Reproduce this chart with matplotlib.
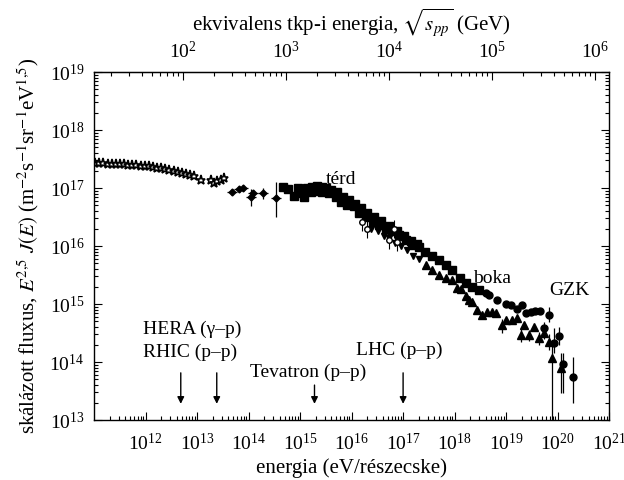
import matplotlib.pyplot as plt
import numpy as np
from matplotlib.ticker import LogLocator, NullFormatter

plt.rcParams['font.family'] = ['Liberation Serif', 'DejaVu Serif']
plt.rcParams['mathtext.fontset'] = 'stix'
plt.rcParams['font.size'] = 14

# direct measurements (stars)
star_E = [1.05e11, 1.26e11, 1.51e11, 1.82e11, 2.19e11, 2.63e11, 3.16e11, 3.80e11,
          4.57e11, 5.50e11, 6.61e11, 7.94e11, 9.55e11, 1.15e12, 1.38e12, 1.66e12,
          2.00e12, 2.40e12, 2.88e12, 3.47e12, 4.17e12, 5.01e12, 6.03e12, 7.24e12,
          8.71e12, 1.20e13, 1.82e13, 2.09e13, 2.40e13, 2.88e13, 3.31e13]
star_F = [2.68e17, 2.66e17, 2.65e17, 2.63e17, 2.62e17, 2.60e17, 2.58e17, 2.56e17,
          2.53e17, 2.50e17, 2.47e17, 2.44e17, 2.40e17, 2.35e17, 2.30e17, 2.24e17,
          2.18e17, 2.12e17, 2.05e17, 1.98e17, 1.90e17, 1.83e17, 1.76e17, 1.70e17,
          1.62e17, 1.40e17, 1.38e17, 1.22e17, 1.30e17, 1.37e17, 1.47e17]

# balloon / air shower points with error bars (diamonds)
dia_E = [4.8e13, 6.6e13, 7.7e13, 1.13e14, 1.2e14, 1.87e14, 3.4e14]
dia_F = [8.7e16, 9.6e16, 1.0e17, 7.1e16, 8.3e16, 8.3e16, 6.8e16]
dia_lo = [7.6e16, 8.5e16, 9.0e16, 4.8e16, 7.2e16, 6.4e16, 3.2e16]
dia_hi = [9.8e16, 1.08e17, 1.1e17, 9.8e16, 9.4e16, 1.0e17, 1.29e17]

# knee region (squares)
sq_E = [4.6e14, 5.7e14, 7.7e14, 9.6e14, 1.2e15, 1.6e15, 2.0e15, 2.7e15, 3.7e15,
        5.0e15, 6.2e15, 8.3e15, 1.12e16, 1.4e16, 1.9e16, 2.6e16, 3.4e16, 4.6e16,
        6.2e16, 8.3e16, 1.12e17, 1.5e17, 2.0e17, 2.7e17, 3.7e17, 5.0e17, 6.7e17,
        9.1e17, 1.3e18, 1.7e18, 2.2e18, 3.0e18]
sq_F = [1.05e17, 9.5e16, 7.3e16, 8.1e16, 6.9e16, 8.7e16, 9.0e16, 8.7e16, 8.1e16,
        7.1e16, 5.8e16, 5.1e16, 4.8e16, 3.7e16, 3.2e16, 2.6e16, 2.3e16, 2.0e16,
        1.8e16, 1.55e16, 1.26e16, 1.04e16, 9.5e15, 7.9e15, 6.6e15, 5.7e15, 4.7e15,
        3.9e15, 2.8e15, 2.3e15, 2.0e15, 1.75e15]
sq2_E = [8.9e14, 1.1e15, 1.38e15, 1.73e15, 2.15e15, 2.6e15, 3.2e15, 4.0e15, 5.2e15,
         6.9e15, 8.9e15, 1.17e16, 1.54e16, 2.0e16, 2.7e16, 3.7e16, 5.3e16, 7.6e16,
         1.05e17, 1.4e17, 1.85e17]
sq2_F = [1.0e17, 9.3e16, 1.0e17, 1.04e17, 1.08e17, 1.04e17, 1.0e17, 9.3e16, 8.5e16,
         6.9e16, 6.2e16, 5.3e16, 4.5e16, 3.7e16, 3.2e16, 2.7e16, 2.2e16, 1.8e16,
         1.5e16, 1.22e16, 1.08e16]

# small open circles with error bars
oc_E = [1.6e16, 2.0e16, 5.4e16, 6.6e16, 7.6e16]
oc_F = [2.6e16, 2.0e16, 1.26e16, 2.0e16, 1.17e16]

# down triangles
dt_E = [2.4e16, 3.2e16, 4.2e16, 5.4e16, 7.0e16, 9.1e16, 1.2e17, 1.56e17, 2.0e17]
dt_F = [1.95e16, 1.8e16, 1.5e16, 1.37e16, 1.13e16, 1.0e16, 8.5e15, 6.7e15, 6.0e15]

# up triangles
tri_E = [2.8e17, 3.7e17, 5.0e17, 6.8e17, 9.1e17, 1.13e18, 1.35e18, 1.7e18, 1.9e18,
         2.2e18, 2.7e18, 3.4e18, 4.3e18, 5.3e18, 6.3e18, 8.3e18, 1.0e19, 1.3e19,
         1.6e19, 1.95e19, 2.2e19, 2.8e19, 3.5e19, 4.3e19, 5.4e19, 6.7e19, 7.7e19,
         1.15e20]
tri_F = [4.7e15, 3.9e15, 3.2e15, 2.8e15, 2.6e15, 1.9e15, 1.8e15, 1.4e15, 1.18e15,
         1.08e15, 7.9e14, 6.5e14, 7.2e14, 7.2e14, 6.9e14, 4.3e14, 5.3e14, 5.3e14,
         5.7e14, 2.9e14, 4.3e14, 2.9e14, 4.0e14, 2.6e14, 3.2e14, 2.2e14, 1.17e14,
         7.9e13]
tri_lo = [4.7e15, 3.9e15, 3.2e15, 2.8e15, 2.6e15, 1.9e15, 1.8e15, 1.4e15, 1.18e15,
          1.08e15, 7.9e14, 6.5e14, 7.2e14, 7.2e14, 6.9e14, 3.2e14, 5.3e14, 5.3e14,
          5.7e14, 2.2e14, 4.3e14, 2.3e14, 4.0e14, 2.0e14, 2.5e14, 1.6e14, 1.0e13,
          2.9e13]
tri_hi = [4.7e15, 3.9e15, 3.2e15, 2.8e15, 2.6e15, 1.9e15, 1.8e15, 1.4e15, 1.18e15,
          1.08e15, 7.9e14, 6.5e14, 7.2e14, 7.2e14, 6.9e14, 5.5e14, 5.3e14, 5.3e14,
          5.7e14, 3.9e14, 4.3e14, 3.6e14, 4.0e14, 3.3e14, 4.0e14, 3.0e14, 2.0e14,
          1.45e14]

# filled circles
ci_E = [4.0e18, 4.7e18, 6.8e18, 9.8e18, 1.24e19, 1.6e19, 2.0e19, 2.4e19, 3.0e19,
        3.7e19, 4.5e19, 5.4e19, 6.8e19, 8.5e19, 1.05e20, 1.3e20, 2.0e20]
ci_F = [1.55e15, 1.43e15, 1.15e15, 1.0e15, 9.6e14, 8.2e14, 9.6e14, 6.9e14, 7.4e14,
        7.6e14, 7.6e14, 3.8e14, 6.5e14, 2.1e14, 2.8e14, 9.3e13, 5.6e13]
ci_lo = [1.55e15, 1.43e15, 1.15e15, 1.0e15, 9.6e14, 8.2e14, 9.6e14, 6.9e14, 7.4e14,
         7.6e14, 7.6e14, 3.0e14, 4.9e14, 1.45e14, 2.0e14, 2.9e13, 1.95e13]
ci_hi = [1.55e15, 1.43e15, 1.15e15, 1.0e15, 9.6e14, 8.2e14, 9.6e14, 6.9e14, 7.4e14,
         7.6e14, 7.6e14, 4.8e14, 8.9e14, 3.9e14, 4.0e14, 1.41e14, 1.23e14]

# accelerators
acc_E = [4.8e12, 2.4e13, 1.9e15, 1.0e17]
acc_top = [6.5e13, 6.5e13, 4.0e13, 6.5e13]
acc_tip = 1.9e13


def asym(v, lo, hi):
    v, lo, hi = np.array(v), np.array(lo), np.array(hi)
    return [v - lo, hi - v]


fig = plt.figure(figsize=(6.24, 4.8), dpi=100)
ax = fig.add_axes([0.151, 0.125, 0.825, 0.725])
ax.set_xscale('log')
ax.set_yscale('log')
ax.set_xlim(1e11, 1e21)
ax.set_ylim(1e13, 1e19)

k = dict(color='black', linestyle='none')
ax.plot(star_E, star_F, marker='*', markersize=6.5, markerfacecolor='white',
        markeredgewidth=1.2, **k)
ax.errorbar(dia_E, dia_F, yerr=asym(dia_F, dia_lo, dia_hi),
            xerr=[np.array(dia_E) * 0.2, np.array(dia_E) * 0.25],
            marker='D', markersize=3.5, elinewidth=0.9, capsize=0, **k)
ax.plot(sq_E, sq_F, marker='s', markersize=5.2, **k)
ax.plot(sq2_E, sq2_F, marker='s', markersize=5.2, **k)
ax.errorbar(oc_E, oc_F, yerr=[np.array(oc_F) * 0.3, np.array(oc_F) * 0.4],
            marker='o', markersize=4, markerfacecolor='white', elinewidth=0.8, **k)
ax.plot(dt_E, dt_F, marker='v', markersize=5, **k)
ax.errorbar(tri_E, tri_F, yerr=asym(tri_F, tri_lo, tri_hi), marker='^',
            markersize=5.5, elinewidth=0.9, capsize=0, **k)
ax.errorbar(ci_E, ci_F, yerr=asym(ci_F, ci_lo, ci_hi), marker='o',
            markersize=5, elinewidth=0.9, capsize=0, **k)

for E, top in zip(acc_E, acc_top):
    ax.annotate('', xy=(E, acc_tip), xytext=(E, top),
                arrowprops=dict(arrowstyle='-|>', color='black', lw=1.0,
                                mutation_scale=10, shrinkA=0, shrinkB=0))

ax.text(8.7e11, 3.7e14, 'HERA (γ–p)', ha='left', va='center', fontsize=14)
ax.text(8.7e11, 1.48e14, 'RHIC (p–p)', ha='left', va='center', fontsize=14)
ax.text(1.05e14, 6.7e13, 'Tevatron (p–p)', ha='left', va='center', fontsize=14)
ax.text(1.23e16, 1.6e14, 'LHC (p–p)', ha='left', va='center', fontsize=14)
ax.text(6.2e15, 1.38e17, 'térd', ha='center', va='center', fontsize=14)
ax.text(5.4e18, 2.8e15, 'boka', ha='center', va='center', fontsize=14)
ax.text(1.66e20, 1.74e15, 'GZK', ha='center', va='center', fontsize=14)

ax.set_xticks([10.0 ** n for n in range(12, 22)])
ax.xaxis.set_minor_locator(LogLocator(base=10, subs=np.arange(2, 10), numticks=100))
ax.xaxis.set_minor_formatter(NullFormatter())
ax.yaxis.set_major_locator(LogLocator(base=10, numticks=20))
ax.yaxis.set_minor_locator(LogLocator(base=10, subs=np.arange(2, 10), numticks=100))
ax.yaxis.set_minor_formatter(NullFormatter())
ax.tick_params(which='both', direction='in', top=False, right=True, width=0.8,
               labelsize=14)
ax.tick_params(axis='x', which='major', length=6, pad=9)
ax.tick_params(axis='y', which='major', length=6, pad=7)
ax.tick_params(which='minor', length=3)
for s in ax.spines.values():
    s.set_linewidth(1.0)

mp2 = 2 * 0.938e9


def to_sqrts(E):
    return np.sqrt(mp2 * np.clip(E, 1e-30, None)) / 1e9


def to_E(s):
    return (np.asarray(s) * 1e9) ** 2 / mp2


sec = ax.secondary_xaxis('top', functions=(to_sqrts, to_E))
sec.xaxis.set_major_locator(LogLocator(base=10, numticks=20))
sec.xaxis.set_minor_locator(LogLocator(base=10, subs=np.arange(2, 10), numticks=100))
sec.xaxis.set_minor_formatter(NullFormatter())
sec.tick_params(which='both', direction='in', width=0.8, labelsize=14)
sec.tick_params(which='major', length=6, pad=7)
sec.tick_params(which='minor', length=3)
sec.set_xlabel(r'ekvivalens tkp-i energia, $\sqrt{s_{pp}}$ (GeV)', fontsize=15,
               labelpad=8)

ax.set_xlabel('energia (eV/részecske)', fontsize=15, labelpad=3)
ax.set_ylabel(r'skálázott fluxus, $E^{2{,}5}\ J(E)$ '
              r'(m$^{-2}$s$^{-1}$sr$^{-1}$eV$^{1{,}5}$)', fontsize=15, labelpad=6)

fig.savefig('out.png', dpi=100)
